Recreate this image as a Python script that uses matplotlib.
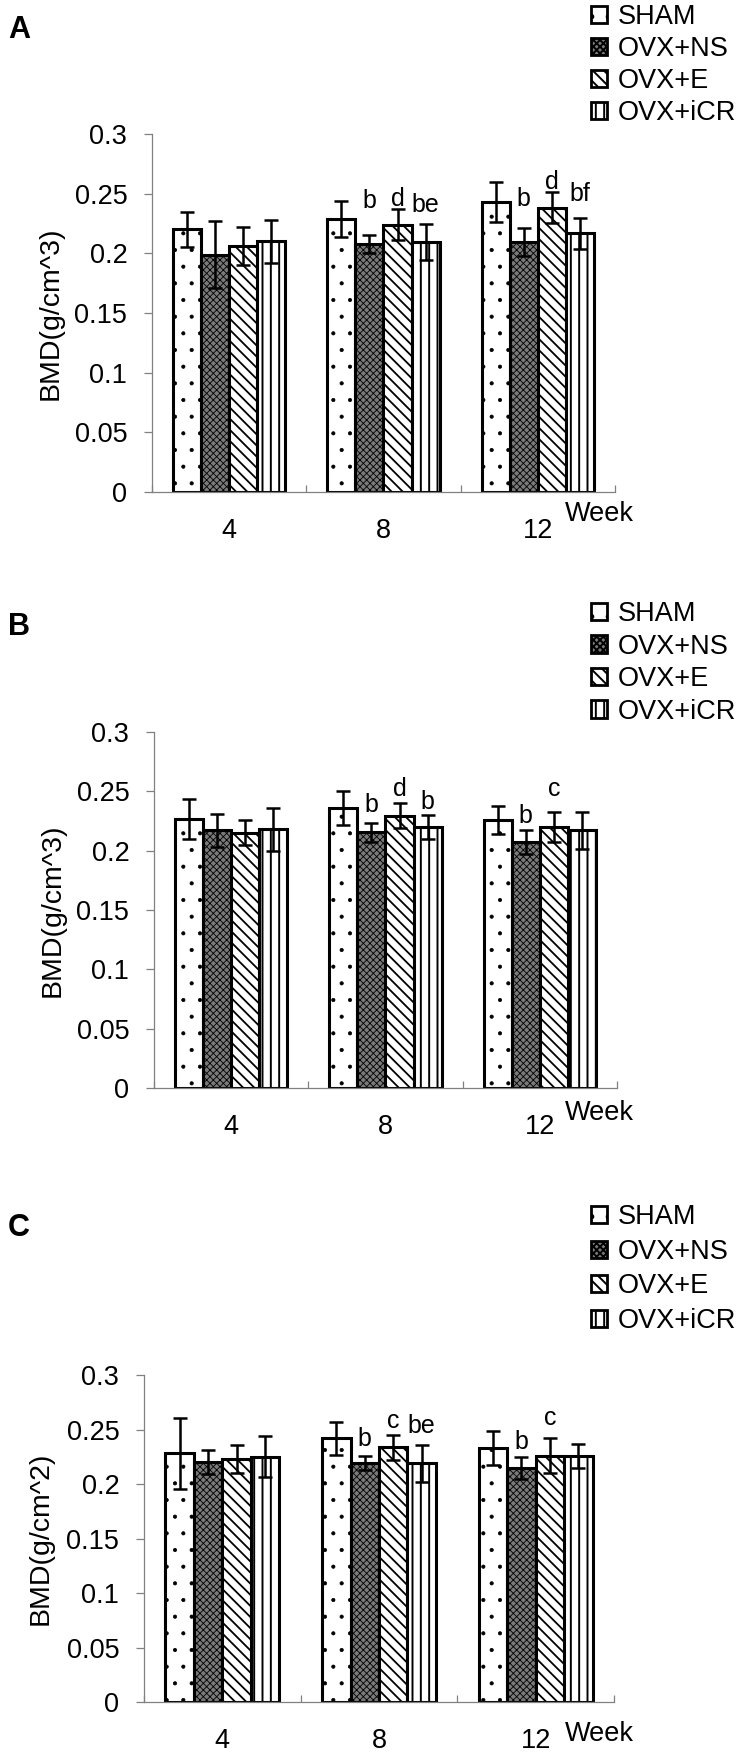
import matplotlib
matplotlib.use("Agg")
import matplotlib.pyplot as plt
import numpy as np
from matplotlib.patches import Patch

plt.rcParams['font.family'] = ['Liberation Sans', 'DejaVu Sans']
plt.rcParams['hatch.linewidth'] = 1.4

weeks = ['4', '8', '12']
groups = ['SHAM', 'OVX+NS', 'OVX+E', 'OVX+iCR']

# panel A: BMD (g/cm^3)
a_sham = [0.220, 0.229, 0.243]
a_ns = [0.199, 0.2075, 0.2096]
a_e = [0.206, 0.224, 0.238]
a_icr = [0.210, 0.2096, 0.217]
a_sham_err = [0.015, 0.015, 0.017]
a_ns_err = [0.028, 0.0075, 0.012]
a_e_err = [0.016, 0.013, 0.013]
a_icr_err = [0.018, 0.015, 0.013]
# (week index, group index, letters, baseline value)
a_marks = [(1, 1, 'b', 0.238), (1, 2, 'd', 0.240), (1, 3, 'be', 0.235),
           (2, 1, 'b', 0.240), (2, 2, 'd', 0.254), (2, 3, 'bf', 0.244)]

# panel B
b_sham = [0.2265, 0.236, 0.226]
b_ns = [0.217, 0.2155, 0.207]
b_e = [0.215, 0.2295, 0.220]
b_icr = [0.218, 0.220, 0.217]
b_sham_err = [0.017, 0.014, 0.012]
b_ns_err = [0.014, 0.008, 0.010]
b_e_err = [0.0105, 0.0105, 0.0125]
b_icr_err = [0.018, 0.010, 0.016]
b_marks = [(1, 1, 'b', 0.2325), (1, 2, 'd', 0.246), (1, 3, 'b', 0.2355),
           (2, 1, 'b', 0.2235), (2, 2, 'c', 0.246)]

# panel C: BMD (g/cm^2)
c_sham = [0.228, 0.242, 0.233]
c_ns = [0.220, 0.219, 0.2145]
c_e = [0.223, 0.2335, 0.226]
c_icr = [0.225, 0.219, 0.226]
c_sham_err = [0.033, 0.015, 0.0155]
c_ns_err = [0.011, 0.0065, 0.010]
c_e_err = [0.013, 0.0115, 0.016]
c_icr_err = [0.019, 0.017, 0.011]
c_marks = [(1, 1, 'b', 0.2353), (1, 2, 'c', 0.2516), (1, 3, 'be', 0.2467),
           (2, 1, 'b', 0.232), (2, 2, 'c', 0.2543)]

W, H = 750, 1760
fig = plt.figure(figsize=(W / 100, H / 100), dpi=100)
fig.patch.set_facecolor('white')

styles = [dict(facecolor='white', hatch='.'),
          dict(facecolor='#7a7a7a', hatch='xxxxx'),
          dict(facecolor='white', hatch='\\\\\\'),
          dict(facecolor='white', hatch='||')]
hatch_lw = [0.5, 0.6, 1.3, 1.4]
grey = '#808080'


def set_hlw(p, lw):
    if hasattr(p, 'set_hatch_linewidth'):
        p.set_hatch_linewidth(lw)


def panel(box, means, errs, marks, ylabel, letter, letter_y, leg_top,
          leg_space, week_dy):
    l, r, b, t = box
    ax = fig.add_axes([l / W, 1 - b / H, (r - l) / W, (b - t) / H])
    x = np.arange(len(weeks))
    w = 0.1815
    for i in range(4):
        xs = x + (i - 1.5) * w
        bars = ax.bar(xs, means[i], w, edgecolor='black', linewidth=2.2,
                      zorder=2, **styles[i])
        for p in bars:
            set_hlw(p, hatch_lw[i])
        ax.errorbar(xs, means[i], yerr=errs[i], fmt='none', ecolor='black',
                    elinewidth=1.8, capsize=4.8, capthick=1.8, zorder=3)
    for wk, g, txt, yv in marks:
        ax.text(x[wk] + (g - 1.5) * w, yv, txt, ha='center', va='baseline',
                fontsize=18, zorder=4)
    ax.set_xlim(-0.5, len(weeks) - 0.5)
    ax.set_ylim(0, 0.3)
    ax.set_yticks(np.arange(0, 0.301, 0.05))
    ax.set_yticklabels(['0', '0.05', '0.1', '0.15', '0.2', '0.25', '0.3'])
    ax.set_xticks(x)
    ax.set_xticklabels(weeks)
    ax.set_xticks(np.arange(-0.5, len(weeks)), minor=True)
    ax.tick_params(axis='x', which='major', length=0, pad=19, labelsize=19.5)
    ax.tick_params(axis='x', which='minor', length=5, direction='in',
                   color=grey, width=0.9)
    ax.tick_params(axis='y', length=5.8, direction='out', color=grey,
                   width=0.9, pad=12, labelsize=19.5)
    for s in ['top', 'right']:
        ax.spines[s].set_visible(False)
    for s in ['left', 'bottom']:
        ax.spines[s].set_color(grey)
        ax.spines[s].set_linewidth(0.9)
    ax.text(-0.22, 0.5, ylabel, transform=ax.transAxes, rotation=90,
            ha='center', va='center', fontsize=20.5)
    ax.annotate('Week', xy=(565 / W, 1 - b / H), xycoords='figure fraction',
                xytext=(0, -week_dy * 0.72), textcoords='offset points',
                ha='left', va='center', fontsize=19.5)
    fig.text(19 / W, 1 - letter_y / H, letter, fontsize=22,
             fontweight='bold', ha='center', va='center')
    handles = []
    for i in range(4):
        hp = Patch(edgecolor='black', linewidth=2.0, label=groups[i],
                   **styles[i])
        set_hlw(hp, hatch_lw[i])
        handles.append(hp)
    fig.legend(handles=handles, loc='upper left',
               bbox_to_anchor=(591 / W, 1 - leg_top / H), frameon=False,
               fontsize=19.5, handlelength=0.6, handleheight=0.6,
               handletextpad=0.4, labelspacing=leg_space, borderpad=0,
               borderaxespad=0)
    return ax


panel((152, 615, 492, 134), [a_sham, a_ns, a_e, a_icr],
      [a_sham_err, a_ns_err, a_e_err, a_icr_err], a_marks,
      'BMD(g/cm^3)', 'A', 30, 4, 0.22, 22)
panel((154, 617, 1088, 732), [b_sham, b_ns, b_e, b_icr],
      [b_sham_err, b_ns_err, b_e_err, b_icr_err], b_marks,
      'BMD(g/cm^3)', 'B', 627, 601, 0.24, 25)
panel((144, 614, 1702, 1375), [c_sham, c_ns, c_e, c_icr],
      [c_sham_err, c_ns_err, c_e_err, c_icr_err], c_marks,
      'BMD(g/cm^2)', 'C', 1228, 1204, 0.32, 32)

fig.savefig('out.png', dpi=100, facecolor='white')
